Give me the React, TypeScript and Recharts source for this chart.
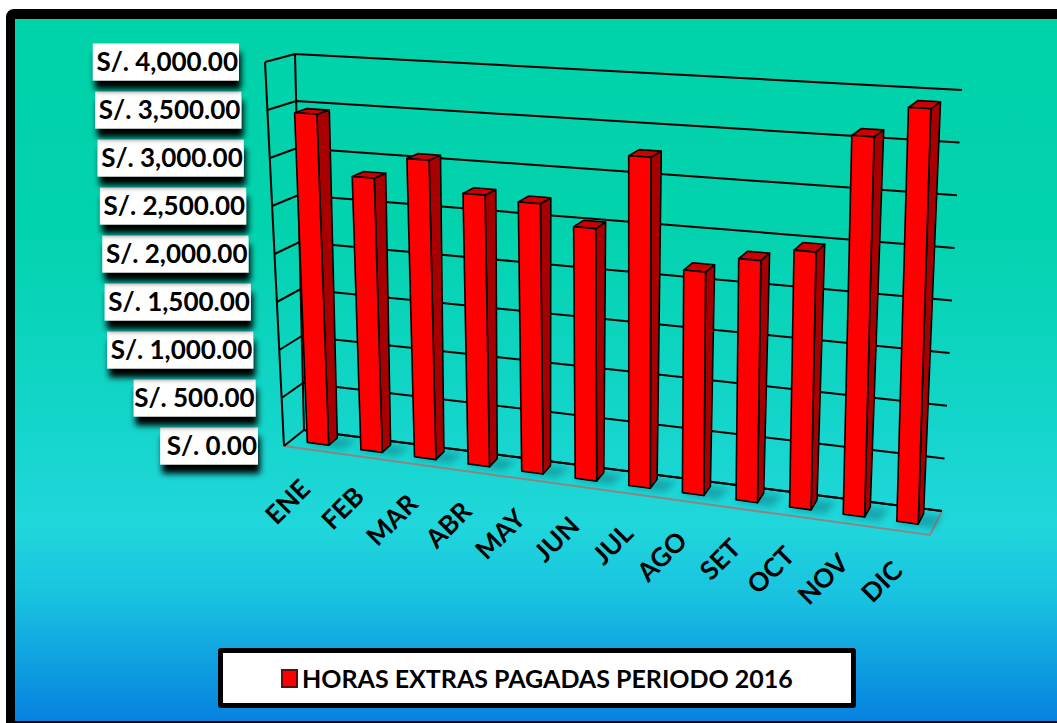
import { BarChart, Bar, XAxis, YAxis, CartesianGrid } from 'recharts';

const months = ['ENE', 'FEB', 'MAR', 'ABR', 'MAY', 'JUN', 'JUL', 'AGO', 'SET', 'OCT', 'NOV', 'DIC'];
const pagos = [3450, 2830, 3060, 2750, 2710, 2510, 3260, 2180, 2340, 2470, 3610, 3910];
const yTicks = [0, 500, 1000, 1500, 2000, 2500, 3000, 3500, 4000];
const seriesName = 'HORAS EXTRAS PAGADAS PERIODO 2016';

const data = months.map((mes, i) => ({ mes, pago: pagos[i] }));

const W = 1057;
const H = 723;
const MARGIN = { top: 40, right: 57, bottom: 60, left: 100 };
const Y_AXIS_W = 60;
const X_AXIS_H = 30;
// flat plot area that recharts lays out; we re-project it into the 3D box
const X0 = MARGIN.left + Y_AXIS_W;
const X1 = W - MARGIN.right;
const Y0 = MARGIN.top;
const Y1 = H - MARGIN.bottom - X_AXIS_H;

type Pt = [number, number];

// corners of the back wall (w = 0) and of the front edge (w = 1)
const BACK = { tl: [295, 54] as Pt, tr: [962, 90] as Pt, bl: [304, 430] as Pt, br: [942, 511] as Pt };
const FRONT = { tl: [265, 62] as Pt, tr: [940, 106] as Pt, bl: [284, 446] as Pt, br: [930, 535] as Pt };
const W_FRONT = 0.64;
const W_BACK = 0.2;

const FONT = "Lato, 'Open Sans', sans-serif";

const lerp = (a: Pt, b: Pt, t: number): Pt => [a[0] + (b[0] - a[0]) * t, a[1] + (b[1] - a[1]) * t];

function project(u: number, v: number, w: number): Pt {
  const back = lerp(lerp(BACK.bl, BACK.br, u), lerp(BACK.tl, BACK.tr, u), v);
  const front = lerp(lerp(FRONT.bl, FRONT.br, u), lerp(FRONT.tl, FRONT.tr, u), v);
  return lerp(back, front, w);
}

const toU = (x: number) => (x - X0) / (X1 - X0);
const toV = (y: number) => (Y1 - y) / (Y1 - Y0);
const pts = (list: Pt[]) => list.map((p) => `${p[0].toFixed(1)},${p[1].toFixed(1)}`).join(' ');

const money = (n: number) =>
  'S/. ' + n.toLocaleString('en-US', { minimumFractionDigits: 2, maximumFractionDigits: 2 });

function WallFrame() {
  const f0 = project(0, 0, 1);
  const f1 = project(0, 1, 1);
  const b0 = project(0, 0, 0);
  const b1 = project(0, 1, 0);
  return (
    <g>
      <polyline
        points={pts([project(0, 0, 1), project(1, 0, 1), project(1, 0, 0)])}
        fill="none"
        stroke="#8f8584"
        strokeWidth={2}
      />
      <polyline points={pts([project(0, 0, 0), project(1, 0, 0)])} fill="none" stroke="#000" strokeWidth={2} />
      <line x1={f0[0]} y1={f0[1]} x2={f1[0]} y2={f1[1]} stroke="#000" strokeWidth={2} />
      <line x1={b0[0]} y1={b0[1]} x2={b1[0]} y2={b1[1]} stroke="#000" strokeWidth={2} />
    </g>
  );
}

function GridLine(props: any) {
  const { y1, index } = props;
  const v = toV(y1);
  return (
    <g key={`grid-${index}`}>
      {index === 0 && <WallFrame />}
      <polyline
        points={pts([project(0, v, 1), project(0, v, 0), project(1, v, 0)])}
        fill="none"
        stroke="#000"
        strokeWidth={2}
      />
    </g>
  );
}

function Bar3D(props: any) {
  const { x, y, width, height } = props;
  if (!height) return null;
  const u0 = toU(x);
  const u1 = toU(x + width);
  const vt = toV(y);
  const vb = toV(y + height);
  const front = [project(u0, vb, W_FRONT), project(u1, vb, W_FRONT), project(u1, vt, W_FRONT), project(u0, vt, W_FRONT)];
  const side = [project(u1, vb, W_FRONT), project(u1, vb, W_BACK), project(u1, vt, W_BACK), project(u1, vt, W_FRONT)];
  const top = [project(u0, vt, W_FRONT), project(u1, vt, W_FRONT), project(u1, vt, W_BACK), project(u0, vt, W_BACK)];
  const shadow = [
    project(u0, vb, W_FRONT + 0.1),
    project(u1 + 0.025, vb, W_FRONT + 0.1),
    project(u1 + 0.03, vb, W_BACK),
    project(u0 + 0.01, vb, W_BACK),
  ];
  return (
    <g>
      <polygon points={pts(shadow)} fill="#0b6f7c" opacity={0.45} filter="url(#floorBlur)" />
      <polygon points={pts(side)} fill="#a80000" stroke="#000" strokeWidth={1.6} strokeLinejoin="round" />
      <polygon points={pts(top)} fill="#cc0000" stroke="#000" strokeWidth={1.6} strokeLinejoin="round" />
      <polygon points={pts(front)} fill="#ff0000" stroke="#000" strokeWidth={1.6} strokeLinejoin="round" />
    </g>
  );
}

function YTick(props: any) {
  const { y, payload } = props;
  const [fx, fy] = project(0, toV(y), 1);
  const label = money(payload.value);
  const right = fx - 26;
  const bw = label.length * 12.1 + 1;
  return (
    <g>
      <rect x={right - bw} y={fy - 18.5} width={bw} height={37} fill="#fff" filter="url(#labelShadow)" />
      <text
        x={right - 1}
        y={fy}
        dy="0.36em"
        textAnchor="end"
        fontSize={26}
        fontWeight={700}
        fontFamily={FONT}
        fill="#000"
      >
        {label}
      </text>
    </g>
  );
}

function XTick(props: any) {
  const { x, payload } = props;
  const [px, py] = project(toU(x), 0, 1);
  const ax = px + 1;
  const ay = py + 41;
  return (
    <text
      x={ax}
      y={ay}
      textAnchor="end"
      fontSize={26}
      fontWeight={700}
      fontFamily={FONT}
      fill="#000"
      transform={`rotate(-45 ${ax} ${ay})`}
    >
      {payload.value}
    </text>
  );
}

export default function App() {
  return (
    <div style={{ position: 'relative', width: W, height: H, overflow: 'hidden' }}>
      <style>{'html,body{margin:0;padding:0;overflow:hidden;}'}</style>
      <svg width={0} height={0} style={{ position: 'absolute' }}>
        <defs>
          <filter id="labelShadow" x="-20%" y="-40%" width="140%" height="220%">
            <feDropShadow dx={2} dy={9} stdDeviation={3} floodColor="#000" floodOpacity={1} />
          </filter>
          <filter id="floorBlur" x="-50%" y="-50%" width="200%" height="200%">
            <feGaussianBlur stdDeviation={3} />
          </filter>
        </defs>
      </svg>

      <div
        style={{
          position: 'absolute',
          left: 6,
          top: 9,
          width: 1070,
          height: 721,
          boxSizing: 'border-box',
          borderStyle: 'solid',
          borderColor: '#000',
          borderWidth: '10px 9px 9px 9px',
          borderRadius: 8,
          background:
            'linear-gradient(to bottom, #00d2a9 0%, #02d3ae 30%, #12d5c8 55%, #20d7db 72%, #19c3e0 82%, #0f9fe0 92%, #0682df 100%)',
        }}
      />

      <div style={{ position: 'absolute', left: 0, top: 0 }}>
        <BarChart width={W} height={H} data={data} margin={MARGIN} barCategoryGap="30%">
          <CartesianGrid horizontal={(p: any) => <GridLine {...p} />} vertical={false} />
          <XAxis
            dataKey="mes"
            height={X_AXIS_H}
            interval={0}
            axisLine={false}
            tickLine={false}
            tick={(p: any) => <XTick {...p} />}
          />
          <YAxis
            width={Y_AXIS_W}
            domain={[0, 4000]}
            ticks={yTicks}
            interval={0}
            axisLine={false}
            tickLine={false}
            tick={(p: any) => <YTick {...p} />}
          />
          <Bar dataKey="pago" name={seriesName} shape={(p: any) => <Bar3D {...p} />} isAnimationActive={false} />
        </BarChart>
      </div>

      <div
        style={{
          position: 'absolute',
          left: 218,
          top: 648,
          width: 638,
          height: 60,
          boxSizing: 'border-box',
          border: '5px solid #000',
          borderRadius: 3,
          background: '#fff',
          display: 'flex',
          alignItems: 'center',
          paddingLeft: 58,
          fontFamily: FONT,
          fontWeight: 700,
          fontSize: 25,
          color: '#000',
        }}
      >
        <span
          style={{
            display: 'inline-block',
            width: 13,
            height: 15,
            background: '#ff0000',
            border: '2px solid #5a1010',
            marginRight: 4,
          }}
        />
        {seriesName}
      </div>
    </div>
  );
}
